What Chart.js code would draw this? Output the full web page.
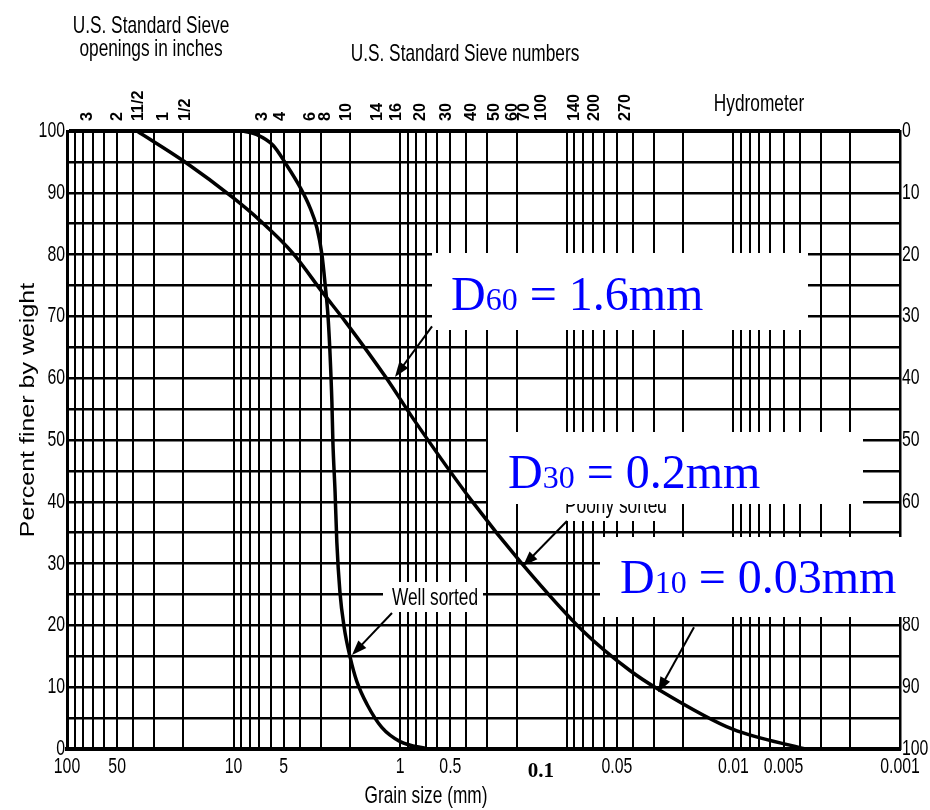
<!DOCTYPE html>
<html>
<head>
<meta charset="utf-8">
<title>Grain size distribution</title>
<script src="https://cdn.jsdelivr.net/npm/chart.js@4.4.1/dist/chart.umd.min.js"></script>
<style>
  html, body { margin: 0; padding: 0; background: #fff; }
  canvas { display: block; }
</style>
</head>
<body>
<canvas id="grading" width="930" height="810"></canvas>
<script>
// grain size (mm) against percent finer
const poorlySize  = [38.0, 19.85, 10.08, 6.94, 4.40, 2.91, 2.14, 1.217, 0.838, 0.366, 0.186, 0.080, 0.0418, 0.0284, 0.0101, 0.0037];
const poorlyFiner = [100, 95.1, 89.2, 85.5, 80.2, 73.8, 69.2, 60.1, 53.5, 39.9, 30.0, 19.1, 12.7, 9.7, 3.2, 0];

const wellSize  = [8.78, 7.24, 5.80, 4.78, 3.99, 3.48, 3.16, 2.95, 2.83, 2.71, 2.64, 2.57, 2.535, 2.46, 2.40, 2.30, 2.17, 2.00, 1.82, 1.58, 1.29, 1.00, 0.681];
const wellFiner = [100, 99.4, 97.7, 94.4, 90.9, 87.6, 84.3, 80.0, 75.5, 69.9, 64.2, 56.1, 49.7, 41.6, 33.4, 25.4, 19.7, 14.9, 10.9, 7.2, 3.5, 1.2, 0];

// axis labels
const sizeTickLabels  = [100, 50, 10, 5, 1, 0.5, 0.1, 0.05, 0.01, 0.005, 0.001];
const percentTicks    = [0, 10, 20, 30, 40, 50, 60, 70, 80, 90, 100];
const hydrometerTicks = [0, 10, 20, 30, 40, 50, 60, 70, 80, 90, 100];

// sieve marks along the top edge
const inchSieveLabels = ['3', '2', '11/2', '1', '1/2'];
const inchSieveSizes  = [75.9, 50.1, 37.5, 26.5, 19.6];
const sieveNumbers     = ['3', '4', '6', '8', '10', '14', '16', '20', '30', '40', '50', '60', '70', '100', '140', '200', '270'];
const sieveNumberSizes = [6.75, 5.27, 3.48, 2.83, 2.11, 1.38, 1.06, 0.761, 0.531, 0.376, 0.274, 0.211, 0.181, 0.143, 0.0906, 0.0687, 0.0448];

// log paper: lines at 1..9 of every decade
const gridDecades = [10, 1, 0.1, 0.01, 0.001];
const gridSteps = [9, 8, 7, 6, 5, 4, 3, 2, 1];

const SANS = '"Liberation Sans", Arial, Helvetica, sans-serif';
const SERIF = '"Liberation Serif", "Times New Roman", serif';
const BLUE = '#0000ff';

function gridValues() {
    const vals = [100];
    gridDecades.forEach(dec => gridSteps.forEach(s => vals.push(+(s * dec).toPrecision(3))));
    return vals;
}

// helvetica condensed look: squeeze a normal sans horizontally
function squeezed(ctx, text, x, y, opt = {}) {
    const size = opt.size || 24, sx = opt.sx || 0.72;
    ctx.save();
    ctx.font = `${opt.weight || 'normal'} ${size}px ${opt.family || SANS}`;
    ctx.fillStyle = opt.color || '#000';
    ctx.textBaseline = opt.base || 'alphabetic';
    ctx.textAlign = 'left';
    const w = ctx.measureText(text).width * sx;
    const align = opt.align || 'center';
    const x0 = align === 'center' ? x - w / 2 : align === 'right' ? x - w : x;
    ctx.translate(x0, y);
    ctx.scale(sx, 1);
    ctx.fillText(text, 0, 0);
    ctx.restore();
}

function whiteBox(ctx, x1, y1, x2, y2) {
    ctx.fillStyle = '#fff';
    ctx.fillRect(x1, y1, x2 - x1, y2 - y1);
}

function arrow(ctx, x1, y1, x2, y2) {
    const ang = Math.atan2(y2 - y1, x2 - x1);
    const len = 15, half = 5.5;
    ctx.save();
    ctx.strokeStyle = '#000';
    ctx.fillStyle = '#000';
    ctx.lineWidth = 2;
    ctx.beginPath();
    ctx.moveTo(x1, y1);
    ctx.lineTo(x2 - Math.cos(ang) * len * 0.8, y2 - Math.sin(ang) * len * 0.8);
    ctx.stroke();
    ctx.beginPath();
    ctx.moveTo(x2, y2);
    ctx.lineTo(x2 - Math.cos(ang) * len - Math.sin(ang) * half, y2 - Math.sin(ang) * len + Math.cos(ang) * half);
    ctx.lineTo(x2 - Math.cos(ang) * len + Math.sin(ang) * half, y2 - Math.sin(ang) * len - Math.cos(ang) * half);
    ctx.closePath();
    ctx.fill();
    ctx.restore();
}

// "D60 = 1.6mm" with the small index on the same baseline
function dLabel(ctx, sub, rest, x, y) {
    ctx.save();
    ctx.fillStyle = BLUE;
    ctx.textBaseline = 'alphabetic';
    ctx.textAlign = 'left';
    ctx.font = `48px ${SERIF}`;
    ctx.fillText('D', x, y);
    x += ctx.measureText('D').width;
    ctx.font = `32px ${SERIF}`;
    ctx.fillText(sub, x, y);
    x += ctx.measureText(sub).width;
    ctx.font = `48px ${SERIF}`;
    ctx.fillText(' = ' + rest, x, y);
    ctx.restore();
}

const overlay = {
    id: 'overlay',
    afterDraw(chart) {
        const { ctx, scales } = chart;
        const xs = scales.x, ys = scales.y, yh = scales.y2;
        const px = v => xs.getPixelForValue(v);
        const py = v => ys.getPixelForValue(v);

        // headings
        squeezed(ctx, 'U.S. Standard Sieve', 151, 33);
        squeezed(ctx, 'openings in inches', 151, 56);
        squeezed(ctx, 'U.S. Standard Sieve numbers', 465, 61);
        squeezed(ctx, 'Hydrometer', 759, 111);
        squeezed(ctx, 'Grain size (mm)', 426, 803);

        // left title
        ctx.save();
        ctx.translate(28, 410);
        ctx.rotate(-Math.PI / 2);
        ctx.scale(1.25, 1);
        ctx.font = `20px ${SANS}`;
        ctx.fillStyle = '#000';
        ctx.textAlign = 'center';
        ctx.textBaseline = 'middle';
        ctx.fillText('Percent finer by weight', 0, 0);
        ctx.restore();

        // sieve labels, turned on their side
        const sieve = (txt, size) => {
            ctx.save();
            ctx.translate(px(size), 121);
            ctx.rotate(-Math.PI / 2);
            ctx.scale(0.95, 1);
            ctx.font = `bold 17px ${SANS}`;
            ctx.fillStyle = '#000';
            ctx.textAlign = 'left';
            ctx.textBaseline = 'middle';
            ctx.fillText(txt, 0, 0);
            ctx.restore();
        };
        inchSieveLabels.forEach((t, i) => sieve(t, inchSieveSizes[i]));
        sieveNumbers.forEach((t, i) => sieve(t, sieveNumberSizes[i]));

        // tick labels
        percentTicks.forEach(v => squeezed(ctx, String(v), 65, py(v), { size: 22, align: 'right', base: 'middle' }));
        hydrometerTicks.forEach(v => squeezed(ctx, String(v), 902, yh.getPixelForValue(v), { size: 22, align: 'left', base: 'middle' }));
        sizeTickLabels.forEach(v => {
            if (v === 0.1) {
                ctx.save();
                ctx.font = `bold 21px ${SERIF}`;
                ctx.fillStyle = '#000';
                ctx.textAlign = 'center';
                ctx.fillText('0.1', px(v) - 26, 777);
                ctx.restore();
            } else {
                squeezed(ctx, String(v), px(v), 773, { size: 22 });
            }
        });

        // curve labels
        whiteBox(ctx, 383, 582, 483, 612);
        squeezed(ctx, 'Well sorted', 435, 605);
        whiteBox(ctx, 556, 496, 676, 521);
        squeezed(ctx, 'Poorly sorted', 616, 513);
        arrow(ctx, px(1.12), py(22.0), px(1.947), py(15.2));
        arrow(ctx, px(0.0997), py(36.9), px(0.1832), py(29.6));

        // pasted-on D values
        whiteBox(ctx, 432, 253, 808, 330);
        dLabel(ctx, '60', '1.6mm', 451, 310);
        whiteBox(ctx, 488, 432, 863, 504);
        dLabel(ctx, '30', '0.2mm', 508, 488);
        whiteBox(ctx, 600, 537, 930, 617);
        dLabel(ctx, '10', '0.03mm', 620, 593);
        arrow(ctx, px(0.644), py(68.4), px(1.075), py(60.2));
        arrow(ctx, px(0.01724), py(19.7), px(0.02836), py(9.2));
    }
};

const toPoints = (sizes, finer) => sizes.map((d, i) => ({ x: d, y: finer[i] }));

new Chart(document.getElementById('grading'), {
    type: 'line',
    data: {
        datasets: [
            {
                label: 'Poorly sorted',
                data: toPoints(poorlySize, poorlyFiner),
                borderColor: '#000',
                borderWidth: 3.5,
                pointRadius: 0,
                cubicInterpolationMode: 'monotone',
                fill: false
            },
            {
                label: 'Well sorted',
                data: toPoints(wellSize, wellFiner),
                borderColor: '#000',
                borderWidth: 3.5,
                pointRadius: 0,
                cubicInterpolationMode: 'monotone',
                fill: false
            }
        ]
    },
    options: {
        responsive: false,
        animation: false,
        devicePixelRatio: 1,
        layout: { padding: { top: 131, left: 0, right: 0, bottom: 0 } },
        plugins: { legend: { display: false }, tooltip: { enabled: false } },
        scales: {
            x: {
                type: 'logarithmic',
                position: 'bottom',
                reverse: true,
                min: 0.001,
                max: 100,
                afterBuildTicks: s => { s.ticks = gridValues().map(v => ({ value: v })); },
                afterFit: s => { s.height = 61; },
                ticks: { display: false },
                grid: { color: '#000', lineWidth: 2, drawTicks: false },
                border: { color: '#000', width: 4 }
            },
            y: {
                position: 'left',
                min: 0,
                max: 100,
                afterFit: s => { s.width = 67; },
                ticks: { stepSize: 5, display: false },
                grid: {
                    color: '#000',
                    lineWidth: c => (c.tick && c.tick.value === 100 ? 4 : 2.5),
                    drawTicks: false
                },
                border: { color: '#000', width: 3 }
            },
            y2: {
                position: 'right',
                min: 0,
                max: 100,
                reverse: true,
                afterFit: s => { s.width = 30; },
                ticks: { stepSize: 10, display: false },
                grid: { display: false, drawOnChartArea: false },
                border: { color: '#000', width: 2.5 }
            }
        }
    },
    plugins: [overlay]
});
</script>
</body>
</html>
